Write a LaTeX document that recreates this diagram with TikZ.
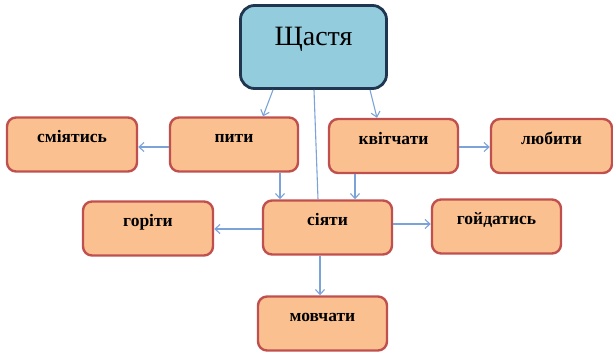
\documentclass[tikz,border=0pt]{standalone}
\usepackage{fontspec}
\setmainfont{Liberation Serif}
\usetikzlibrary{arrows.meta}
\definecolor{boxfill}{HTML}{FAC090}
\definecolor{boxedge}{HTML}{C0504D}
\definecolor{mainfill}{HTML}{93CDDD}
\definecolor{mainedge}{HTML}{1F3550}
\definecolor{link}{HTML}{7BA3D8}
\begin{document}
\begin{tikzpicture}[x=1pt,y=-1pt,
  wordbox/.style={draw=boxedge,fill=boxfill,line width=2.4pt,rounded corners=9pt,
    inner sep=0pt,text height=25pt,text depth=29pt,font=\bfseries\fontsize{17.5}{20}\selectfont},
  mainbox/.style={draw=mainedge,fill=mainfill,line width=2.8pt,rounded corners=14pt,
    inner sep=0pt,text height=40pt,text depth=43pt,minimum width=146pt,font=\fontsize{28}{32}\selectfont},
  link/.style={draw=link,line width=1.1pt,-{Straight Barb[length=5pt,width=9pt]}},
  plainlink/.style={draw=link,line width=1.1pt}]
\useasboundingbox (0,0) rectangle (613,353);
\node[mainbox] (main) at (313.5,47) {Щастя};
\node[wordbox,minimum width=130pt] (smi) at (72,144.5) {сміятись};
\node[wordbox,minimum width=128pt] (pyty) at (234,144.5) {пити};
\node[wordbox,minimum width=129pt] (kvit) at (393.5,146) {квітчати};
\node[wordbox,minimum width=121pt] (lyub) at (551.5,146) {любити};
\node[wordbox,minimum width=130pt] (hor) at (148,228.5) {горіти};
\node[wordbox,minimum width=129pt] (siy) at (327.5,227.5) {сіяти};
\node[wordbox,minimum width=129pt] (hoyd) at (496.5,226.5) {гойдатись};
\node[wordbox,minimum width=129pt] (movch) at (322.5,323.5) {мовчати};
\draw[link] (main.south -| 273,0) -- (pyty.north -| 263,0);
\draw[link] (main.south -| 370,0) -- (kvit.north -| 377,0);
\draw[plainlink] (main.south -| 314,0) -- (siy.north -| 318,0);
\draw[link] (pyty.west |- 0,147) -- (smi.east |- 0,147);
\draw[link] (kvit.east |- 0,147) -- (lyub.west |- 0,147);
\draw[link] (pyty.south -| 280,0) -- (siy.north -| 280,0);
\draw[link] (kvit.south -| 355,0) -- (siy.north -| 355,0);
\draw[link] (siy.west |- 0,229) -- (hor.east |- 0,229);
\draw[link] (siy.east |- 0,224) -- (hoyd.west |- 0,224);
\draw[link] (siy.south -| 320,0) -- (movch.north -| 320,0);
\end{tikzpicture}
\end{document}
